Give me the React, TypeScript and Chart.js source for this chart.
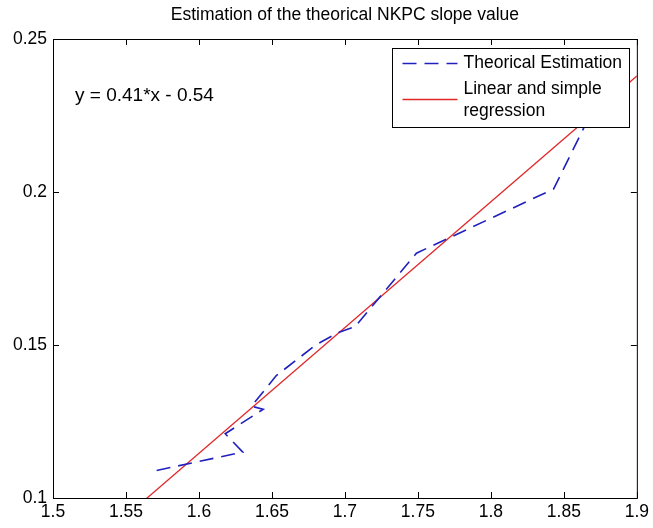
import React, { useEffect, useRef } from "react";
import { Chart, registerables } from "chart.js";

Chart.register(...registerables);

const titleText = "Estimation of the theorical NKPC slope value";
const annotationText = "y = 0.41*x - 0.54";
const legendLabels = ["Theorical Estimation", "Linear and simple", "regression"];

// Theorical Estimation (blue dashed)
const theoX = [1.571, 1.630, 1.618, 1.644, 1.636, 1.653, 1.680, 1.695, 1.707, 1.749, 1.843, 1.872];
const theoY = [0.109, 0.115, 0.121, 0.129, 0.130, 0.140, 0.150, 0.154, 0.156, 0.180, 0.201, 0.229];

// Linear and simple regression (red)
const regX = [1.5, 1.9];
const regY = [0.0735, 0.2379];

const xTicks = [1.5, 1.55, 1.6, 1.65, 1.7, 1.75, 1.8, 1.85, 1.9];
const xTickLabels = ["1.5", "1.55", "1.6", "1.65", "1.7", "1.75", "1.8", "1.85", "1.9"];
const yTicks = [0.1, 0.15, 0.2, 0.25];
const yTickLabels = ["0.1", "0.15", "0.2", "0.25"];

const FONT_FAMILY = '"Liberation Sans", Arial, sans-serif';
const BLUE = "rgb(32,32,190)";
const RED = "rgb(225,40,40)";
const DASH = [14, 8];

const matlabPlugin = {
  id: "matlabDecor",
  afterDatasetsDraw(chart: any) {
    const { ctx, chartArea: a, scales } = chart;
    const xs = scales.x;
    const ys = scales.y;
    ctx.save();
    ctx.setLineDash([]);
    ctx.strokeStyle = "#000";
    ctx.lineWidth = 1;
    // frame
    ctx.strokeRect(a.left + 0.5, a.top + 0.5, a.right - a.left, a.bottom - a.top);
    // inward ticks
    const tl = 6;
    ctx.beginPath();
    xTicks.forEach((v) => {
      const px = Math.round(xs.getPixelForValue(v)) + 0.5;
      ctx.moveTo(px, a.bottom);
      ctx.lineTo(px, a.bottom - tl);
      ctx.moveTo(px, a.top);
      ctx.lineTo(px, a.top + tl);
    });
    yTicks.forEach((v) => {
      const py = Math.round(ys.getPixelForValue(v)) + 0.5;
      ctx.moveTo(a.left, py);
      ctx.lineTo(a.left + tl, py);
      ctx.moveTo(a.right, py);
      ctx.lineTo(a.right - tl, py);
    });
    ctx.stroke();

    // legend box
    const lw = 237;
    const lh = 79;
    const lx = Math.round(a.right - 8 - lw) + 0.5;
    const ly = Math.round(a.top + 9) + 0.5;
    ctx.fillStyle = "#fff";
    ctx.fillRect(lx, ly, lw, lh);
    ctx.strokeStyle = "#000";
    ctx.lineWidth = 1;
    ctx.strokeRect(lx, ly, lw, lh);

    // samples
    ctx.lineWidth = 1.6;
    ctx.strokeStyle = BLUE;
    ctx.setLineDash(DASH);
    ctx.beginPath();
    ctx.moveTo(lx + 10, ly + 15);
    ctx.lineTo(lx + 65, ly + 15);
    ctx.stroke();
    ctx.setLineDash([]);
    ctx.lineWidth = 1.3;
    ctx.strokeStyle = RED;
    ctx.beginPath();
    ctx.moveTo(lx + 10, ly + 51);
    ctx.lineTo(lx + 65, ly + 51);
    ctx.stroke();

    ctx.fillStyle = "#000";
    ctx.font = `17.5px ${FONT_FAMILY}`;
    ctx.textAlign = "left";
    ctx.textBaseline = "middle";
    ctx.fillText(legendLabels[0], lx + 71, ly + 15);
    ctx.fillText(legendLabels[1], lx + 71, ly + 41);
    ctx.fillText(legendLabels[2], lx + 71, ly + 63);

    // annotation
    ctx.font = `19px ${FONT_FAMILY}`;
    ctx.fillText(annotationText, a.left + 22, a.top + 57);

    // title
    ctx.font = `17.5px ${FONT_FAMILY}`;
    ctx.textAlign = "center";
    ctx.fillText(titleText, (a.left + a.right) / 2, 15);
    ctx.restore();
  },
};

export default function App() {
  const canvasRef = useRef<HTMLCanvasElement | null>(null);

  useEffect(() => {
    document.body.style.margin = "0";
    const canvas = canvasRef.current;
    if (!canvas) return;
    const chart = new Chart(canvas, {
      type: "line",
      data: {
        datasets: [
          {
            label: legendLabels[0],
            data: theoX.map((x, i) => ({ x, y: theoY[i] })),
            borderColor: BLUE,
            borderWidth: 1.6,
            borderDash: DASH,
            pointRadius: 0,
            tension: 0,
            fill: false,
          },
          {
            label: legendLabels[1] + " " + legendLabels[2],
            data: regX.map((x, i) => ({ x, y: regY[i] })),
            borderColor: RED,
            borderWidth: 1.3,
            pointRadius: 0,
            tension: 0,
            fill: false,
          },
        ],
      },
      options: {
        responsive: false,
        animation: false,
        devicePixelRatio: 1,
        layout: { padding: { top: 39, right: 12, left: 0, bottom: 0 } },
        plugins: {
          legend: { display: false },
          title: { display: false },
          tooltip: { enabled: false },
        },
        scales: {
          x: {
            type: "linear",
            min: 1.5,
            max: 1.9,
            grid: { display: false, drawTicks: false },
            border: { display: false },
            afterBuildTicks: (scale: any) => {
              scale.ticks = xTicks.map((v) => ({ value: v }));
            },
            afterFit: (scale: any) => {
              scale.height = 30;
            },
            ticks: {
              autoSkip: false,
              maxRotation: 0,
              padding: 4,
              color: "#000",
              font: { family: FONT_FAMILY, size: 17.5 },
              callback: (_v: any, i: number) => xTickLabels[i],
            },
          },
          y: {
            type: "linear",
            min: 0.1,
            max: 0.25,
            grid: { display: false, drawTicks: false },
            border: { display: false },
            afterBuildTicks: (scale: any) => {
              scale.ticks = yTicks.map((v) => ({ value: v }));
            },
            afterFit: (scale: any) => {
              scale.width = 53;
            },
            ticks: {
              autoSkip: false,
              padding: 6,
              color: "#000",
              font: { family: FONT_FAMILY, size: 17.5 },
              callback: (_v: any, i: number) => yTickLabels[i],
            },
          },
        },
      },
      plugins: [matlabPlugin],
    });
    return () => chart.destroy();
  }, []);

  return (
    <div style={{ width: 653, height: 528, background: "#fff" }}>
      <canvas ref={canvasRef} width={653} height={528} />
    </div>
  );
}
